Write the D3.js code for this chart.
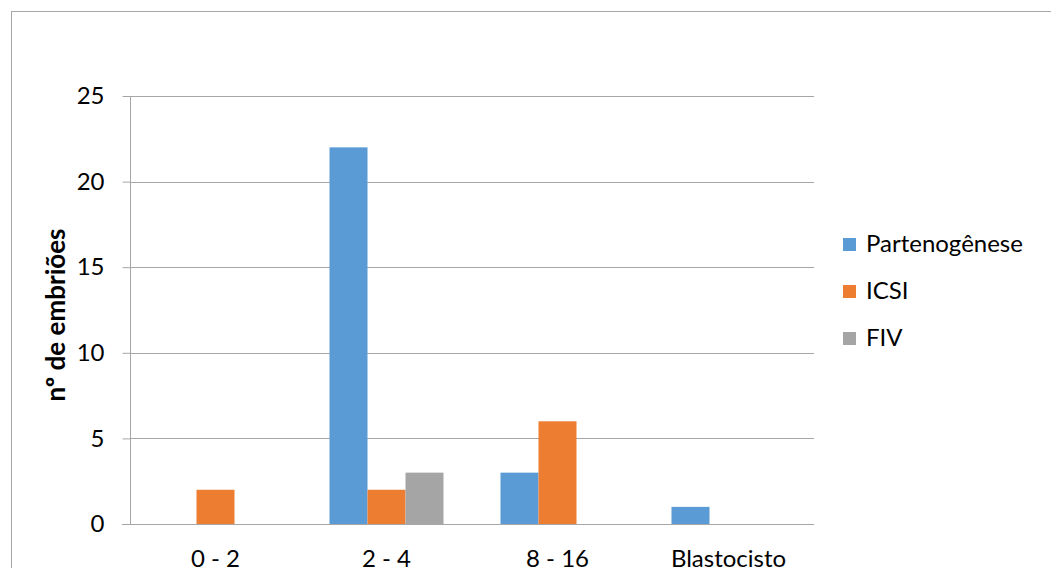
<!DOCTYPE html>
<html>
<head>
<meta charset="utf-8">
<script src="https://cdn.jsdelivr.net/npm/d3@7"></script>
<style>
  html, body { margin: 0; padding: 0; background: #fff; }
  svg { display: block; font-family: Lato, "Open Sans", sans-serif; }
</style>
</head>
<body>
<svg id="chart" width="1051" height="568"></svg>
<script>
// Embryo counts by developmental stage, per technique
const categories = ["0 - 2", "2 - 4", "8 - 16", "Blastocisto"];
const seriesNames = ["Partenogênese", "ICSI", "FIV"];
const partenogenese = [0, 22, 3, 1];
const icsi = [2, 2, 6, 0];
const fiv = [0, 3, 0, 0];
const yTicks = [0, 5, 10, 15, 20, 25];
const colors = ["#5B9BD5", "#ED7D31", "#A5A5A5"];

const seriesValues = [partenogenese, icsi, fiv];

const svg = d3.select("#chart");

// chart frame
svg.append("rect")
  .attr("x", 11.5).attr("y", 11.5)
  .attr("width", 1100).attr("height", 600)
  .attr("fill", "none").attr("stroke", "#A6A6A6").attr("stroke-width", 1);

const plot = { left: 130, right: 814, top: 96, bottom: 524 };

const x = d3.scaleBand()
  .domain(categories)
  .range([plot.left, plot.right])
  .paddingInner(0).paddingOuter(0);

const inner = d3.scaleBand()
  .domain(seriesNames)
  .range([0, x.bandwidth()])
  .paddingInner(0)
  .paddingOuter(0.75);

const y = d3.scaleLinear().domain([0, 25]).range([plot.bottom, plot.top]);

// horizontal gridlines
svg.append("g")
  .selectAll("line")
  .data(yTicks.filter(d => d !== 0))
  .join("line")
  .attr("x1", plot.left).attr("x2", plot.right)
  .attr("y1", d => Math.round(y(d)) + 0.5).attr("y2", d => Math.round(y(d)) + 0.5)
  .attr("stroke", "#A6A6A6").attr("stroke-width", 1);

// y axis with outward ticks
const yAxis = d3.axisLeft(y).tickValues(yTicks).tickSize(8).tickPadding(18).tickFormat(d3.format("d"));
const gy = svg.append("g")
  .attr("transform", `translate(${plot.left + 0.5},0)`)
  .call(yAxis);
gy.select(".domain").attr("stroke", "#A6A6A6").attr("d", `M0,${plot.top}V${plot.bottom}`);
gy.selectAll(".tick line").attr("stroke", "#A6A6A6");
gy.selectAll(".tick text")
  .attr("fill", "#000").attr("font-size", 24)
  .attr("font-family", "Lato, 'Open Sans', sans-serif");

// bars
const groups = svg.append("g")
  .selectAll("g")
  .data(seriesNames.map((name, i) => ({ name, i, values: seriesValues[i] })))
  .join("g")
  .attr("fill", d => colors[d.i]);

groups.selectAll("rect")
  .data(d => d.values.map((v, j) => ({ name: d.name, cat: categories[j], v })))
  .join("rect")
  .attr("x", d => x(d.cat) + inner(d.name))
  .attr("width", inner.bandwidth())
  .attr("y", d => y(d.v))
  .attr("height", d => y(0) - y(d.v));

// x axis baseline and category labels
const xAxis = d3.axisBottom(x).tickSize(0).tickPadding(0);
const gx = svg.append("g")
  .attr("transform", `translate(0,${plot.bottom + 0.5})`)
  .call(xAxis);
gx.select(".domain").attr("stroke", "#A6A6A6").attr("d", `M${plot.left - 8},0H${plot.right}`);
gx.selectAll(".tick text")
  .attr("fill", "#000").attr("font-size", 24)
  .attr("font-family", "Lato, 'Open Sans', sans-serif")
  .attr("dy", null)
  .attr("y", 42);

// y axis title
svg.append("text")
  .attr("transform", `translate(65,${(plot.top + plot.bottom) / 2 + 5}) rotate(-90)`)
  .attr("text-anchor", "middle")
  .attr("font-size", 26).attr("font-weight", "bold")
  .attr("fill", "#000")
  .text("nº de embriões");

// legend
const legend = svg.append("g")
  .selectAll("g")
  .data(seriesNames)
  .join("g")
  .attr("transform", (d, i) => `translate(843,${244 + i * 47})`);
legend.append("rect")
  .attr("x", 0).attr("y", -6).attr("width", 13).attr("height", 13)
  .attr("fill", (d, i) => colors[i]);
legend.append("text")
  .attr("x", 23).attr("y", 0).attr("dy", "0.35em")
  .attr("font-size", 24).attr("fill", "#000")
  .text(d => d);
</script>
</body>
</html>
